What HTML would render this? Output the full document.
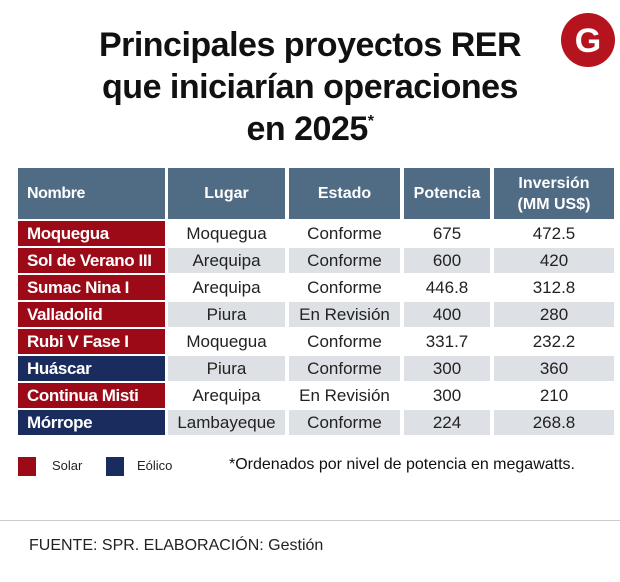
<!DOCTYPE html>
<html><head><meta charset="utf-8"><style>
body{margin:0;width:620px;height:582px;background:#fff;position:relative;overflow:hidden;font-family:"Liberation Sans Narrow","Liberation Sans",sans-serif;}
.a{position:absolute;}
.title{left:0;width:620px;text-align:center;font-weight:bold;font-size:34px;color:#111;line-height:42px;top:24px;letter-spacing:-0.5px;}
.cell{position:absolute;display:flex;align-items:center;justify-content:center;font-size:17px;color:#222;box-sizing:border-box;}
.hd{background:#506b84;color:#fff;font-weight:bold;text-align:center;line-height:21px;font-size:16px;}
.nm{justify-content:flex-start;padding-left:9px;color:#fff;font-weight:bold;letter-spacing:-0.4px;}
</style></head><body>
<div class="a title">Principales proyectos RER<br>que iniciarían operaciones<br>en 2025<span style="font-size:16px;position:relative;top:-14px">*</span></div>
<svg class="a" style="left:560px;top:12px" width="56" height="56"><circle cx="28" cy="28" r="27" fill="#b5141e"/><text x="28" y="40" text-anchor="middle" font-family="Liberation Sans" font-weight="bold" font-size="34" fill="#fff">G</text></svg>
<div id="tbl"></div>
<div class="a" style="left:18px;top:457px;width:18px;height:19px;background:#9b0a16"></div>
<div class="a" style="left:52px;top:458px;font-size:13px;color:#222">Solar</div>
<div class="a" style="left:106px;top:457px;width:18px;height:19px;background:#1a2b5e"></div>
<div class="a" style="left:137px;top:458px;font-size:13px;color:#222">Eólico</div>
<div class="a" style="left:229px;top:456px;font-size:16px;color:#111">*Ordenados por nivel de potencia en megawatts.</div>
<div class="a" style="left:0;top:520px;width:620px;height:1px;background:#ccc"></div>
<div class="a" style="left:29px;top:537px;font-size:16px;color:#222">FUENTE: SPR. ELABORACIÓN: Gestión</div>
<script>
const names=["Moquegua","Sol de Verano III","Sumac Nina I","Valladolid","Rubi V Fase I","Huáscar","Continua Misti","Mórrope"];
const places=["Moquegua","Arequipa","Arequipa","Piura","Moquegua","Piura","Arequipa","Lambayeque"];
const states=["Conforme","Conforme","Conforme","En Revisión","Conforme","Conforme","En Revisión","Conforme"];
const power=["675","600","446.8","400","331.7","300","300","224"];
const invest=["472.5","420","312.8","280","232.2","360","210","268.8"];
const types=["solar","solar","solar","solar","solar","eolico","solar","eolico"];
const headers=["Nombre","Lugar","Estado","Potencia","Inversión<br>(MM US$)"];
const colX=[18,168,289,404,494],colW=[147,117,111,86,120];
const tbl=document.getElementById('tbl');
function mk(x,y,w,h,html,cls,bg,name){const d=document.createElement('div');d.className='cell '+cls;d.style.left=x+'px';d.style.top=y+'px';d.style.width=w+'px';d.style.height=h+'px';if(bg)d.style.background=bg;d.innerHTML=html;


tbl.appendChild(d);}
headers.forEach((h,i)=>mk(colX[i],168,colW[i],51,h,'hd'+(i==0?' nm':''),null,'header-'+i));
names.forEach((n,r)=>{const y=221+r*27;const bg=r%2?'#dde1e5':'#fff';
mk(colX[0],y,colW[0],25,n,'nm',types[r]=='solar'?'#9b0a16':'#1a2b5e','row-name-'+r);
[places[r],states[r],power[r],invest[r]].forEach((v,c)=>mk(colX[c+1],y,colW[c+1],25,v,'',bg,'row-'+r+'-col-'+(c+1)));});
</script>
</body></html>
